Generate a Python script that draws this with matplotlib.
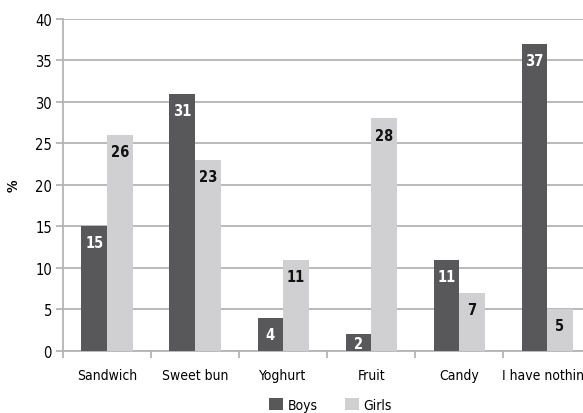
import matplotlib.pyplot as plt
import numpy as np

plt.rcParams['font.family'] = ['DejaVu Sans']
plt.rcParams['font.stretch'] = 'condensed'

categories = ["Sandwich", "Sweet bun", "Yoghurt", "Fruit", "Candy", "I have nothing"]
boys = [15, 31, 4, 2, 11, 37]
girls = [26, 23, 11, 28, 7, 5]

dark = "#58585a"
light = "#d0d0d2"
grid_col = "#b4b4b6"

fig = plt.figure(figsize=(5.83, 4.14), dpi=100)
ax = fig.add_axes([0.108, 0.150, 0.906, 0.802])

x = np.arange(len(categories))
w = 0.29
b1 = ax.bar(x - w / 2, boys, w, color=dark, label="Boys", zorder=3)
b2 = ax.bar(x + w / 2, girls, w, color=light, label="Girls", zorder=3)

for bars, vals, col in ((b1, boys, "white"), (b2, girls, "#111111")):
    for bar, v in zip(bars, vals):
        cx = bar.get_x() + bar.get_width() / 2
        if v < 3:
            # too short for the usual offset: centre inside the bar
            ax.annotate(str(v), (cx, v / 2), xytext=(0, -0.5), textcoords="offset points",
                        ha="center", va="center", fontsize=10.5, fontweight="bold",
                        color=col, zorder=4)
        else:
            ax.annotate(str(v), (cx, v), xytext=(0, -6.5), textcoords="offset points",
                        ha="center", va="top", fontsize=10.5, fontweight="bold",
                        color=col, zorder=4)

ax.set_xlim(-0.5, len(categories) - 0.5)
ax.set_ylim(0, 40)
ax.set_yticks(range(0, 41, 5))
ax.yaxis.grid(True, color=grid_col, linewidth=1.3, zorder=0)

# category labels centred, ticks between groups
ax.set_xticks(x)
ax.set_xticklabels(categories, fontsize=10)
ax.tick_params(axis="x", length=0, pad=12)
ax.set_xticks(np.arange(len(categories) + 1) - 0.5, minor=True)
ax.tick_params(axis="x", which="minor", length=5, width=1.3, color=grid_col)
ax.tick_params(axis="y", length=5, width=1.3, color=grid_col, labelsize=10.5, pad=3)

for side in ("top", "right"):
    ax.spines[side].set_visible(False)
for side in ("left", "bottom"):
    ax.spines[side].set_color(grid_col)
    ax.spines[side].set_linewidth(1.3)

ax.set_ylabel("%", fontsize=10, fontweight="bold", labelpad=10)

fig.legend(loc="center", bbox_to_anchor=(0.567, 0.02), ncol=2, frameon=False,
           fontsize=10, handlelength=1.0, handleheight=1.0, handletextpad=0.3,
           columnspacing=2.0)

fig.savefig("out.png", dpi=100)
